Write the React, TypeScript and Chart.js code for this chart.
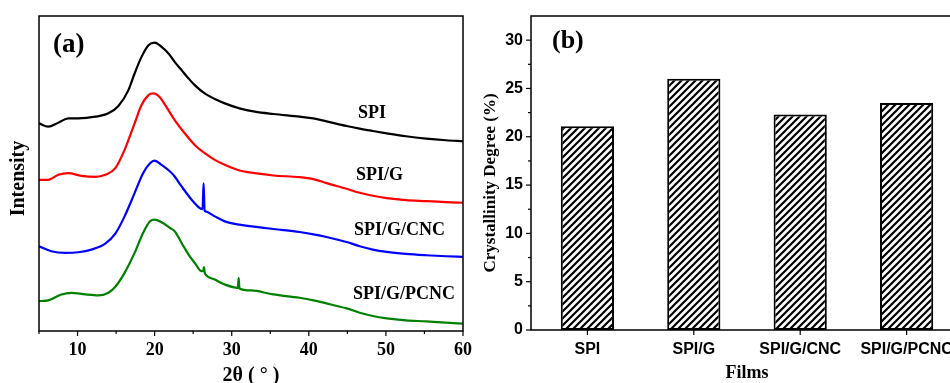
import React, { useEffect, useRef } from "react";
import { Chart, registerables } from "chart.js";

Chart.register(...registerables);

const SERIF = "'Liberation Serif', 'Times New Roman', serif";
const SANS = "'Liberation Sans', Arial, sans-serif";

// ---------- Panel (a): XRD patterns ----------
const xrdNames = ["SPI", "SPI/G", "SPI/G/CNC", "SPI/G/PCNC"];
const xrdColors = ["#000000", "#ff0000", "#0000ff", "#008000"];

const spiTheta = [5, 6.2, 7.5, 8.8, 10.1, 12.3, 14, 15.3, 16.6, 17.4, 18.3, 19.2, 20, 20.9, 21.8, 22.6, 23.5, 24.4, 25.2, 26.5, 27.8, 29.1, 31, 33, 35.4, 38.8, 40.6, 42.3, 44.9, 46.6, 48.3, 50.1, 52.6, 55.2, 57.8, 60];
const spiIntensity = [630, 620, 632, 645, 645, 650, 660, 682, 730, 780, 830, 865, 873, 860, 840, 815, 790, 765, 745, 720, 703, 690, 675, 665, 658, 650, 645, 636, 622, 614, 607, 600, 591, 584, 579, 576];

const spiGTheta = [5, 6.2, 7.5, 8.8, 10.5, 12.3, 13.6, 14.9, 16.1, 17.4, 18.3, 19.2, 19.8, 20.7, 21.5, 22.6, 23.9, 25.2, 26.5, 27.8, 29.1, 31, 33, 35.4, 38.8, 40.6, 42.3, 44.9, 46.6, 48.3, 50.1, 52.6, 55.2, 57.8, 60];
const spiGIntensity = [460, 460, 475, 480, 472, 469, 475, 495, 550, 630, 685, 715, 720, 708, 680, 640, 600, 565, 540, 520, 505, 488, 480, 473, 468, 462, 450, 433, 421, 412, 405, 399, 396, 393, 391];

const cncTheta = [5, 6.6, 8.4, 10.1, 11.8, 13.6, 14.9, 16.1, 17.4, 18.5, 19.4, 20, 20.9, 22, 22.6, 23.5, 24.8, 25.9, 26.22, 26.35, 26.48, 26.6, 27.8, 29.1, 31, 35.4, 38.8, 40.6, 42.3, 44.9, 46.6, 48.3, 50.1, 52.6, 55.2, 57.8, 60];
const cncIntensity = [260, 245, 240, 242, 250, 268, 298, 350, 420, 480, 510, 518, 505, 485, 470, 440, 400, 374, 372, 450, 368, 365, 350, 335, 325, 312, 303, 296, 288, 273, 260, 250, 243, 237, 233, 230, 228];

const pcncTheta = [5, 6.2, 7.9, 9.2, 11, 12.7, 14, 14.9, 16.1, 17.4, 18.5, 19.4, 20, 20.9, 22, 22.6, 23.5, 24.4, 25.2, 26.1, 26.3, 26.4, 26.5, 26.6, 27.8, 29.1, 30.8, 30.9, 31, 32.5, 35.4, 38.8, 40.6, 42.3, 44.9, 46.6, 48.3, 50.1, 52.6, 55.2, 57.8, 60];
const pcncIntensity = [95, 97, 115, 120, 115, 112, 120, 138, 180, 240, 300, 335, 340, 332, 315, 305, 270, 235, 210, 185, 185, 197, 180, 175, 160, 145, 135, 165, 133, 127, 115, 105, 97, 88, 73, 60, 50, 43, 37, 34, 30, 27];

const xrdThetas = [spiTheta, spiGTheta, cncTheta, pcncTheta];
const xrdIntensities = [spiIntensity, spiGIntensity, cncIntensity, pcncIntensity];

const thetaMajorTicks = [10, 20, 30, 40, 50, 60];
const thetaMinorTicks = [5, 15, 25, 35, 45, 55];

// ---------- Panel (b): crystallinity ----------
const films = ["SPI", "SPI/G", "SPI/G/CNC", "SPI/G/PCNC"];
const crystallinity = [21.1, 26.0, 22.3, 23.5];
const crystMajorTicks = [0, 5, 10, 15, 20, 25, 30];
const crystMinorTicks = [2.5, 7.5, 12.5, 17.5, 22.5, 27.5];

function tick(ctx: CanvasRenderingContext2D, x1: number, y1: number, x2: number, y2: number) {
  ctx.beginPath();
  ctx.moveTo(x1, y1);
  ctx.lineTo(x2, y2);
  ctx.stroke();
}

function verticalTitle(ctx: CanvasRenderingContext2D, text: string, cx: number, cy: number, font: string) {
  ctx.save();
  ctx.translate(cx, cy);
  ctx.rotate(-Math.PI / 2);
  ctx.font = font;
  ctx.textAlign = "center";
  ctx.textBaseline = "middle";
  ctx.fillStyle = "#000";
  ctx.fillText(text, 0, 0);
  ctx.restore();
}

const frameA = {
  id: "frameA",
  afterDraw(chart: any) {
    const { ctx, chartArea } = chart;
    const { left, top, right, bottom } = chartArea;
    const x = chart.scales.x;
    ctx.save();
    ctx.strokeStyle = "#000";
    ctx.lineWidth = 1.5;
    ctx.strokeRect(left, top, right - left, bottom - top);
    ctx.lineWidth = 1.2;
    thetaMajorTicks.forEach((v) => {
      const px = x.getPixelForValue(v);
      tick(ctx, px, bottom, px, bottom + 5);
    });
    thetaMinorTicks.forEach((v) => {
      const px = x.getPixelForValue(v);
      tick(ctx, px, bottom, px, bottom + 3);
    });
    ctx.fillStyle = "#000";
    ctx.textBaseline = "middle";
    ctx.textAlign = "left";
    ctx.font = `bold 27px ${SERIF}`;
    ctx.fillText("(a)", left + 14, top + 29);
    ctx.font = `bold 18px ${SERIF}`;
    const lbl = [
      [319, 97],
      [317, 159],
      [315, 214],
      [314, 278],
    ];
    xrdNames.forEach((n, i) => ctx.fillText(n, left + lbl[i][0], top + lbl[i][1]));
    ctx.restore();
    verticalTitle(ctx, "Intensity", left - 20, (top + bottom) / 2 + 5, `bold 20px ${SERIF}`);
  },
};

const frameB = {
  id: "frameB",
  afterDraw(chart: any) {
    const { ctx, chartArea } = chart;
    const { left, top, right, bottom } = chartArea;
    const x = chart.scales.x;
    const y = chart.scales.y;
    ctx.save();
    ctx.strokeStyle = "#000";
    ctx.lineWidth = 1.5;
    ctx.strokeRect(left, top, right - left, bottom - top);
    ctx.lineWidth = 1.2;
    films.forEach((_, i) => {
      const px = x.getPixelForValue(i);
      tick(ctx, px, bottom, px, bottom + 5);
    });
    crystMajorTicks.forEach((v) => {
      const py = y.getPixelForValue(v);
      tick(ctx, left, py, left - 5, py);
    });
    crystMinorTicks.forEach((v) => {
      const py = y.getPixelForValue(v);
      tick(ctx, left, py, left - 3, py);
    });
    ctx.fillStyle = "#000";
    ctx.textBaseline = "middle";
    ctx.textAlign = "left";
    ctx.font = `bold 26px ${SERIF}`;
    ctx.fillText("(b)", left + 21, top + 25);
    ctx.restore();
    verticalTitle(ctx, "Crystallinity Degree (%)", left - 40, (top + bottom) / 2 + 10, `bold 17px ${SERIF}`);
  },
};

function makeHatch(): CanvasPattern | string {
  const s = 7;
  const p = document.createElement("canvas");
  p.width = s;
  p.height = s;
  const c = p.getContext("2d");
  if (!c) return "#fff";
  c.fillStyle = "#fff";
  c.fillRect(0, 0, s, s);
  c.strokeStyle = "#000";
  c.lineWidth = 2.2;
  c.beginPath();
  c.moveTo(-1, s + 1);
  c.lineTo(s + 1, -1);
  c.moveTo(-1, 1);
  c.lineTo(1, -1);
  c.moveTo(s - 1, s + 1);
  c.lineTo(s + 1, s - 1);
  c.stroke();
  return c.createPattern(p, "repeat") || "#fff";
}

export default function App() {
  const refA = useRef<HTMLCanvasElement>(null);
  const refB = useRef<HTMLCanvasElement>(null);

  useEffect(() => {
    document.body.style.margin = "0";
    const chartA = new Chart(refA.current as HTMLCanvasElement, {
      type: "line",
      data: {
        datasets: xrdNames.map((name, i) => ({
          label: name,
          data: xrdThetas[i].map((t, j) => ({ x: t, y: xrdIntensities[i][j] })),
          borderColor: xrdColors[i],
          backgroundColor: xrdColors[i],
          borderWidth: 2.2,
          pointRadius: 0,
          cubicInterpolationMode: "monotone" as const,
          fill: false,
        })),
      },
      options: {
        responsive: false,
        animation: false,
        events: [],
        layout: { padding: { left: 0, top: 16, right: 12, bottom: 0 } },
        plugins: { legend: { display: false }, tooltip: { enabled: false } },
        scales: {
          x: {
            type: "linear",
            min: 5,
            max: 60,
            grid: { display: false, drawTicks: false },
            border: { display: false },
            afterBuildTicks: (s: any) => {
              s.ticks = thetaMajorTicks.map((v) => ({ value: v }));
            },
            afterFit: (s: any) => {
              s.height = 52;
              s.paddingLeft = 0;
              s.paddingRight = 0;
            },
            ticks: {
              color: "#000",
              padding: 9,
              maxRotation: 0,
              autoSkip: false,
              font: { family: SERIF, size: 18, weight: "bold" },
            },
            title: {
              display: true,
              text: "2θ ( ° )",
              color: "#000",
              padding: { top: 0, bottom: -3 },
              font: { family: SERIF, size: 20, weight: "bold", lineHeight: 1 },
            },
          },
          y: {
            type: "linear",
            min: 5,
            max: 953,
            grid: { display: false, drawTicks: false },
            border: { display: false },
            ticks: { display: false },
            afterFit: (s: any) => {
              s.width = 39;
              s.paddingTop = 0;
              s.paddingBottom = 0;
            },
          },
        },
      },
      plugins: [frameA],
    } as any);

    const hatch = makeHatch();
    const chartB = new Chart(refB.current as HTMLCanvasElement, {
      type: "bar",
      data: {
        datasets: [
          {
            label: "Crystallinity Degree",
            data: films.map((_, i) => ({ x: i, y: crystallinity[i] })),
            backgroundColor: hatch,
            borderColor: "#000",
            borderWidth: 2,
            borderSkipped: false,
            barPercentage: 0.5,
            categoryPercentage: 1,
          },
        ],
      },
      options: {
        responsive: false,
        animation: false,
        events: [],
        layout: { padding: { left: 0, top: 16, right: 12, bottom: 0 } },
        plugins: { legend: { display: false }, tooltip: { enabled: false } },
        scales: {
          x: {
            type: "linear",
            min: -0.53,
            max: 3.53,
            offset: false,
            grid: { display: false, drawTicks: false },
            border: { display: false },
            afterBuildTicks: (s: any) => {
              s.ticks = films.map((_, i) => ({ value: i }));
            },
            afterFit: (s: any) => {
              s.height = 53;
              s.paddingLeft = 0;
              s.paddingRight = 0;
            },
            ticks: {
              color: "#000",
              padding: 10,
              maxRotation: 0,
              autoSkip: false,
              callback: (v: any) => films[v as number] ?? "",
              font: { family: SANS, size: 16, weight: "bold" },
            },
            title: {
              display: true,
              text: "Films",
              color: "#000",
              padding: { top: 0, bottom: 1 },
              font: { family: SERIF, size: 18, weight: "bold", lineHeight: 1 },
            },
          },
          y: {
            type: "linear",
            min: 0,
            max: 32.5,
            grid: { display: false, drawTicks: false },
            border: { display: false },
            afterBuildTicks: (s: any) => {
              s.ticks = crystMajorTicks.map((v) => ({ value: v }));
            },
            afterFit: (s: any) => {
              s.width = 56;
              s.paddingTop = 0;
              s.paddingBottom = 0;
            },
            ticks: {
              color: "#000",
              padding: 8,
              font: { family: SANS, size: 16, weight: "bold" },
            },
          },
        },
      },
      plugins: [frameB],
    } as any);

    return () => {
      chartA.destroy();
      chartB.destroy();
    };
  }, []);

  return (
    <div
      style={{
        position: "fixed",
        left: 0,
        top: 0,
        width: 950,
        height: 383,
        overflow: "hidden",
        background: "#fff",
      }}
    >
      <div style={{ position: "absolute", left: 0, top: 0, width: 475, height: 383 }}>
        <canvas ref={refA} width={475} height={383} style={{ display: "block" }} />
      </div>
      <div style={{ position: "absolute", left: 475, top: 0, width: 500, height: 383 }}>
        <canvas ref={refB} width={500} height={383} style={{ display: "block" }} />
      </div>
    </div>
  );
}
